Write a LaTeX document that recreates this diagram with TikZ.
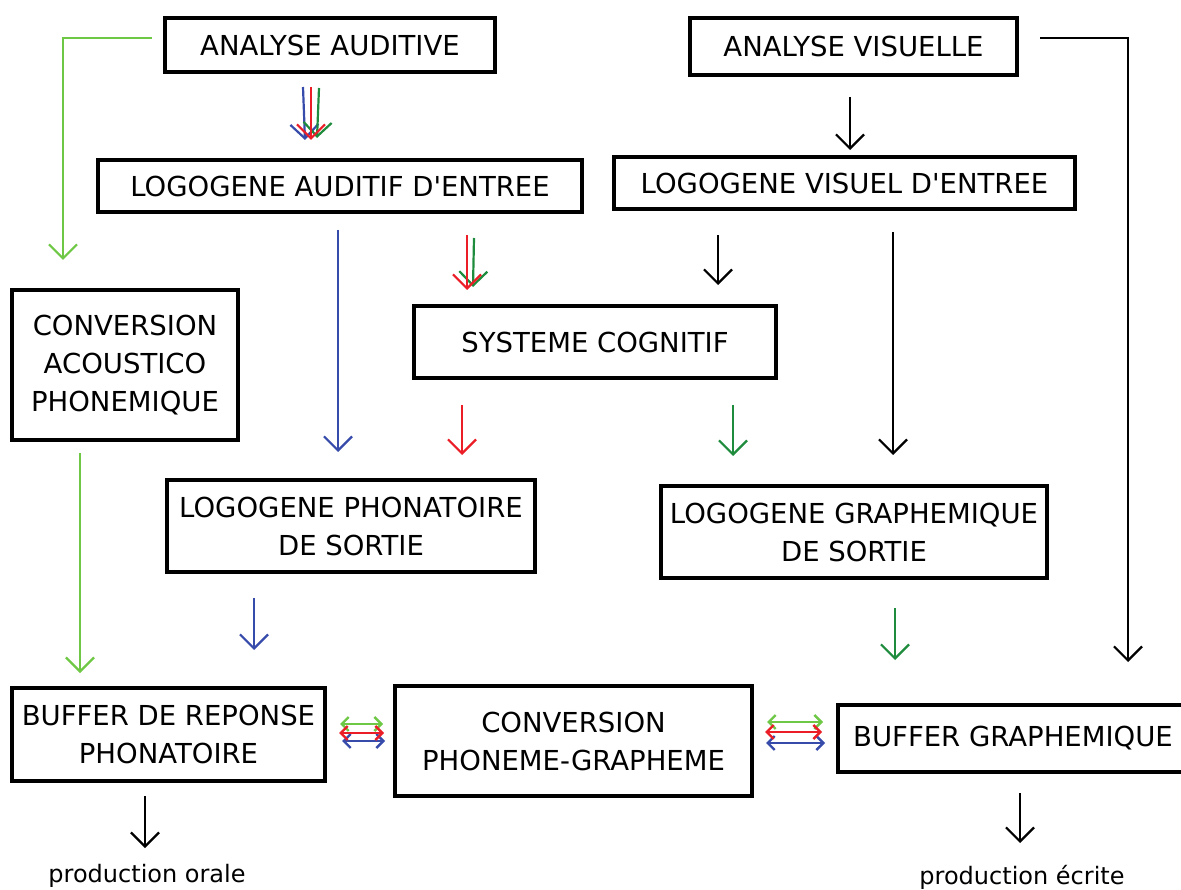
\documentclass[tikz,border=0pt]{standalone}
\usepackage{fontspec}
\setmainfont{DejaVu Sans}
\usetikzlibrary{arrows.meta}
\definecolor{cblue}{RGB}{55,75,170}
\definecolor{cred}{RGB}{235,30,40}
\definecolor{clgreen}{RGB}{110,200,70}
\definecolor{cdgreen}{RGB}{30,140,60}
\tikzset{
  box/.style={draw, line width=3.5pt, inner sep=0pt, align=center, font=\fontsize{27.5}{38}\selectfont},
  arr/.style={line width=2.2pt, -{Straight Barb[length=14pt,width=28pt,line width=2.2pt]}},
  darr/.style={line width=2.4pt, {Straight Barb[length=7pt,width=14pt]}-{Straight Barb[length=7pt,width=14pt]}},
  lbl/.style={font=\fontsize{24}{28}\selectfont, inner sep=0pt}
}
\begin{document}
\begin{tikzpicture}[x=1pt,y=-1pt]
\useasboundingbox (0,0) rectangle (1181,890);
% boxes
\node[box, minimum width=330pt, minimum height=54pt] (aa) at (330,45) {ANALYSE AUDITIVE};
\node[box, minimum width=327pt, minimum height=57pt] (av) at (853.5,46.5) {ANALYSE VISUELLE};
\node[box, minimum width=484pt, minimum height=52pt] (lae) at (340,186) {LOGOGENE AUDITIF D\textquotesingle ENTREE};
\node[box, minimum width=461pt, minimum height=52pt] (lve) at (844.5,183) {LOGOGENE VISUEL D\textquotesingle ENTREE};
\node[box, minimum width=226pt, minimum height=150pt] (cap) at (125,365) {CONVERSION\\ACOUSTICO\\PHONEMIQUE};
\node[box, minimum width=362pt, minimum height=72pt] (sc) at (595,342) {SYSTEME COGNITIF};
\node[box, minimum width=368pt, minimum height=92pt] (lps) at (351,526) {LOGOGENE PHONATOIRE\\DE SORTIE};
\node[box, minimum width=386pt, minimum height=92pt] (lgs) at (854,532) {LOGOGENE GRAPHEMIQUE\\DE SORTIE};
\node[box, minimum width=313pt, minimum height=93pt] (brp) at (168.5,734.5) {BUFFER DE REPONSE\\PHONATOIRE};
\node[box, minimum width=357pt, minimum height=110pt] (cpg) at (573.5,741) {CONVERSION\\PHONEME-GRAPHEME};
\node[box, minimum width=350pt, minimum height=67pt] (bg) at (1013,738.5) {BUFFER GRAPHEMIQUE};
% labels
\node[lbl] (po) at (147,876) {production orale};
\node[lbl] (pe) at (1022,877) {production écrite};
% coordinates
\coordinate (g1a) at (152,38); \coordinate (g1b) at (63,38); \coordinate (g1c) at (63,260);
\coordinate (g2a) at (80,453); \coordinate (g2b) at (80,673);
\coordinate (k1a) at (1040,38); \coordinate (k1b) at (1128,38); \coordinate (k1c) at (1128,662);
% connectors
\draw[arr, clgreen] (g1a) -- (g1b) -- (g1c);
\draw[arr, clgreen] (g2a) -- (g2b);
\draw[arr, black] (k1a) -- (k1b) -- (k1c);
% triple arrows under analyse auditive
\coordinate (t1a) at (303,87); \coordinate (t1b) at (305,140);
\coordinate (t2a) at (311,87); \coordinate (t2b) at (311,140);
\coordinate (t3a) at (319,88); \coordinate (t3b) at (317,138);
\draw[arr, cblue] (t1a) -- (t1b);
\draw[arr, cdgreen] (t3a) -- (t3b);
\draw[arr, cred] (t2a) -- (t2b);
% analyse visuelle -> logogene visuel
\coordinate (v1a) at (850,97); \coordinate (v1b) at (850,150);
\draw[arr] (v1a) -- (v1b);
% logogene auditif -> systeme cognitif
\coordinate (s1a) at (467,235); \coordinate (s1b) at (467,290);
\coordinate (s2a) at (474,238); \coordinate (s2b) at (473,287);
\draw[arr, cdgreen] (s2a) -- (s2b);
\draw[arr, cred] (s1a) -- (s1b);
\coordinate (s3a) at (718,235); \coordinate (s3b) at (718,285);
\draw[arr] (s3a) -- (s3b);
% long arrows
\coordinate (b1a) at (338,230); \coordinate (b1b) at (338,452);
\draw[arr, cblue] (b1a) -- (b1b);
\coordinate (k2a) at (893,232); \coordinate (k2b) at (893,455);
\draw[arr] (k2a) -- (k2b);
% systeme cognitif outputs
\coordinate (r1a) at (462,405); \coordinate (r1b) at (462,455);
\draw[arr, cred] (r1a) -- (r1b);
\coordinate (d1a) at (733,405); \coordinate (d1b) at (733,456);
\draw[arr, cdgreen] (d1a) -- (d1b);
% logogene sortie outputs
\coordinate (b2a) at (254,598); \coordinate (b2b) at (254,650);
\draw[arr, cblue] (b2a) -- (b2b);
\coordinate (d2a) at (895,608); \coordinate (d2b) at (895,660);
\draw[arr, cdgreen] (d2a) -- (d2b);
% double arrows left
\coordinate (lg1) at (340,724); \coordinate (lg2) at (383,724);
\coordinate (lr1) at (339,733); \coordinate (lr2) at (384,733);
\coordinate (lb1) at (342,741); \coordinate (lb2) at (385,741);
\draw[darr, clgreen] (lg1) -- (lg2);
\draw[darr, cblue] (lb1) -- (lb2);
\draw[darr, cred] (lr1) -- (lr2);
% double arrows right
\coordinate (rg1) at (767,722); \coordinate (rg2) at (823,722);
\coordinate (rr1) at (765,732); \coordinate (rr2) at (822,732);
\coordinate (rb1) at (766,743); \coordinate (rb2) at (825,743);
\draw[darr, clgreen] (rg1) -- (rg2);
\draw[darr, cblue] (rb1) -- (rb2);
\draw[darr, cred] (rr1) -- (rr2);
% production
\coordinate (p1a) at (145,796); \coordinate (p1b) at (145,848);
\draw[arr] (p1a) -- (p1b);
\coordinate (p2a) at (1020,793); \coordinate (p2b) at (1020,843);
\draw[arr] (p2a) -- (p2b);
\end{tikzpicture}
\end{document}
